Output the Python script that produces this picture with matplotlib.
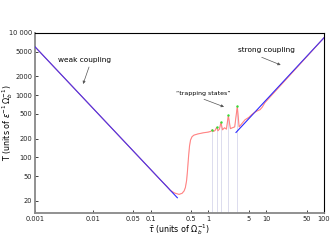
import matplotlib
matplotlib.use("Agg")
import matplotlib.pyplot as plt

# Weak-coupling asymptote (blue)
weak_tau = [0.001, 0.29]
weak_T = [6000, 22.5]

# Strong-coupling asymptote (blue)
strong_tau = [3.0, 100]
strong_T = [252, 8400]

# Full numerical result (red)
red_tau = [0.001, 0.15, 0.19, 0.22, 0.26, 0.31, 0.35, 0.38, 0.40, 0.42, 0.435,
           0.45, 0.47, 0.49, 0.52, 0.56, 0.65, 0.8, 1.0, 1.1, 1.167, 1.22, 1.3,
           1.39, 1.46, 1.55, 1.65, 1.75, 1.9, 2.05, 2.21, 2.4, 2.6, 2.85, 3.16,
           3.4, 3.7, 4.3, 5.0, 5.6, 6.3, 7.0, 7.8, 8.5, 9.5, 100]
red_T = [6000, 43, 34.5, 29.5, 26.8, 25.5, 26.5, 29, 33, 43, 62,
         95, 150, 190, 215, 228, 238, 248, 256, 262, 279, 262, 270,
         305, 268, 285, 367, 278, 300, 285, 475, 290, 300, 310, 664,
         310, 340, 403, 440, 487, 530, 560, 585, 640, 760, 8400]

# Trapping-state peaks (green dots)
peak_tau = [1.167, 1.39, 1.65, 2.21, 3.16]
peak_T = [279, 305, 367, 475, 664]

xticks = [0.001, 0.01, 0.05, 0.1, 0.5, 1, 5, 10, 50, 100]
xticklabels = ["0.001", "0.01", "0.05", "0.1", "0.5", "1", "5", "10", "50", "100"]
yticks = [20, 50, 100, 200, 500, 1000, 2000, 5000, 10000]
yticklabels = ["20", "50", "100", "200", "500", "1000", "2000", "5000", "10 000"]

fig = plt.figure(figsize=(3.32, 2.49), dpi=100)
ax = fig.add_axes([0.1054, 0.1446, 0.976 - 0.1054, 0.8675 - 0.1446])
ax.set_xscale("log")
ax.set_yscale("log")
ax.set_xlim(0.001, 100)
ax.set_ylim(12.8, 10000)

ymin = 12.8
for t, v in zip(peak_tau, peak_T):
    ax.plot([t, t], [ymin, v], color="#dcdcee", lw=0.7, zorder=1)

ax.plot(red_tau, red_T, color="#ff8c8c", lw=0.8, zorder=2)
ax.plot(weak_tau, weak_T, color="#2a2aff", lw=0.8, zorder=3)
ax.plot(strong_tau, strong_T, color="#2a2aff", lw=0.8, zorder=3)
ax.plot(red_tau, red_T, color="#ff6060", lw=0.4, alpha=0.3, zorder=4)
ax.scatter(peak_tau, peak_T, s=3, color="#33dd33", zorder=5, linewidths=0)

ax.set_xticks(xticks)
ax.set_xticklabels(xticklabels)
ax.set_yticks(yticks)
ax.set_yticklabels(yticklabels)
ax.minorticks_off()
ax.tick_params(axis="both", direction="in", length=2, width=0.6,
               labelsize=4.8, pad=2, colors="#222222", top=False, right=False)

for s in ["left", "bottom"]:
    ax.spines[s].set_color("#888888")
    ax.spines[s].set_linewidth(1.3)
for s in ["top", "right"]:
    ax.spines[s].set_color("black")
    ax.spines[s].set_linewidth(0.8)

ax.set_xlabel(r"$\bar{\tau}$ (units of $\Omega_b^{-1}$)", fontsize=5.8, va="center")
ax.set_ylabel(r"T (units of $\epsilon^{-1}\,\Omega_b^{-1}$)", fontsize=5.8, va="center")
ax.xaxis.set_label_coords(0.5, -0.09)
ax.yaxis.set_label_coords(-0.094, 0.5)

arrow = dict(arrowstyle="-|>", lw=0.5, color="#555555", mutation_scale=4,
             shrinkA=0, shrinkB=0)
ax.text(0.0073, 3680, "weak coupling", fontsize=5.3, ha="center", va="center")
ax.annotate("", xy=(0.0068, 1515), xytext=(0.0086, 2840), arrowprops=arrow)
ax.text(9.9, 5330, "strong coupling", fontsize=5.3, ha="center", va="center")
ax.annotate("", xy=(17.8, 3060), xytext=(8.36, 4070), arrowprops=arrow)
ax.text(0.807, 1085, "\u201ctrapping states\u201d", fontsize=4.5, ha="center", va="center")
ax.annotate("", xy=(1.86, 650), xytext=(0.84, 860), arrowprops=arrow)

fig.savefig("out.png", dpi=100)
